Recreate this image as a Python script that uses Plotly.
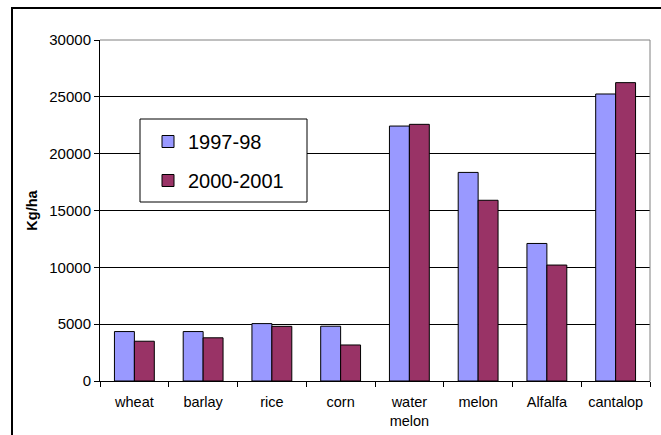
import plotly.graph_objects as go

categories = ["wheat", "barlay", "rice", "corn", "water<br>melon", "melon", "Alfalfa", "cantalop"]
series_names = ["1997-98", "2000-2001"]
values_9798 = [4350, 4350, 5050, 4820, 22430, 18350, 12100, 25250]
values_0001 = [3500, 3800, 4810, 3170, 22580, 15900, 10200, 26250]
y_ticks = [0, 5000, 10000, 15000, 20000, 25000, 30000]

FONT = "Liberation Sans, Arial, sans-serif"

fig = go.Figure()
fig.add_trace(go.Bar(x=categories, y=values_9798, name=series_names[0],
                     marker=dict(color="#9999FF", line=dict(color="#000000", width=1)),
                     legendgroup="a"))
fig.add_trace(go.Bar(x=categories, y=values_0001, name=series_names[1],
                     marker=dict(color="#993366", line=dict(color="#000000", width=1)),
                     legendgroup="b"))

L, R, T, B = 100, 11, 40, 54
W, H = 661, 435
pw = W - L - R
ph = H - T - B

def px_x(p):
    return (p - L) / pw

def px_y(p):
    return (H - B - p) / ph

shapes = [
    # outer chart frame
    dict(type="rect", xref="paper", yref="paper",
         x0=px_x(12), x1=px_x(668), y0=px_y(442), y1=px_y(8),
         line=dict(color="#000000", width=2), fillcolor="rgba(0,0,0,0)", layer="above"),
    # plot area top and right border (gray)
    dict(type="line", xref="paper", yref="paper", x0=0, x1=1, y0=1, y1=1,
         line=dict(color="#808080", width=1), layer="above"),
    dict(type="line", xref="paper", yref="paper", x0=1, x1=1, y0=0, y1=1,
         line=dict(color="#808080", width=1), layer="above"),
    # legend box
    dict(type="rect", xref="paper", yref="paper",
         x0=px_x(140), x1=px_x(307), y0=px_y(202), y1=px_y(119),
         line=dict(color="#000000", width=1), fillcolor="#FFFFFF", layer="above"),
]

fig.update_layout(
    width=W, height=H,
    margin=dict(l=L, r=R, t=T, b=B),
    paper_bgcolor="#FFFFFF", plot_bgcolor="#FFFFFF",
    font=dict(family=FONT, size=14.5, color="#000000"),
    barmode="group", bargap=0.42, bargroupgap=0,
    showlegend=True,
    legend=dict(x=px_x(148), y=px_y(122), xanchor="left", yanchor="top",
                bgcolor="rgba(0,0,0,0)", borderwidth=0,
                font=dict(family=FONT, size=20, color="#000000"),
                traceorder="grouped", tracegroupgap=10, itemwidth=30),
    shapes=shapes,
    xaxis=dict(showline=True, linecolor="#000000", linewidth=1, automargin=False,
               ticks="outside", ticklen=5, tickcolor="#000000", tickson="boundaries",
               showgrid=False, tickfont=dict(size=14.5), ticklabelstandoff=8),
    yaxis=dict(range=[0, 30000], tickvals=y_ticks, showline=True, linecolor="#000000", linewidth=1,
               automargin=False,
               ticks="outside", ticklen=5, tickcolor="#000000",
               showgrid=True, gridcolor="#000000", gridwidth=1,
               tickfont=dict(size=15), tickformat="d", zeroline=False,
               title=dict(text="<b>Kg/ha</b>", font=dict(size=14.5), standoff=8)),
)

fig.write_html("out.html")
